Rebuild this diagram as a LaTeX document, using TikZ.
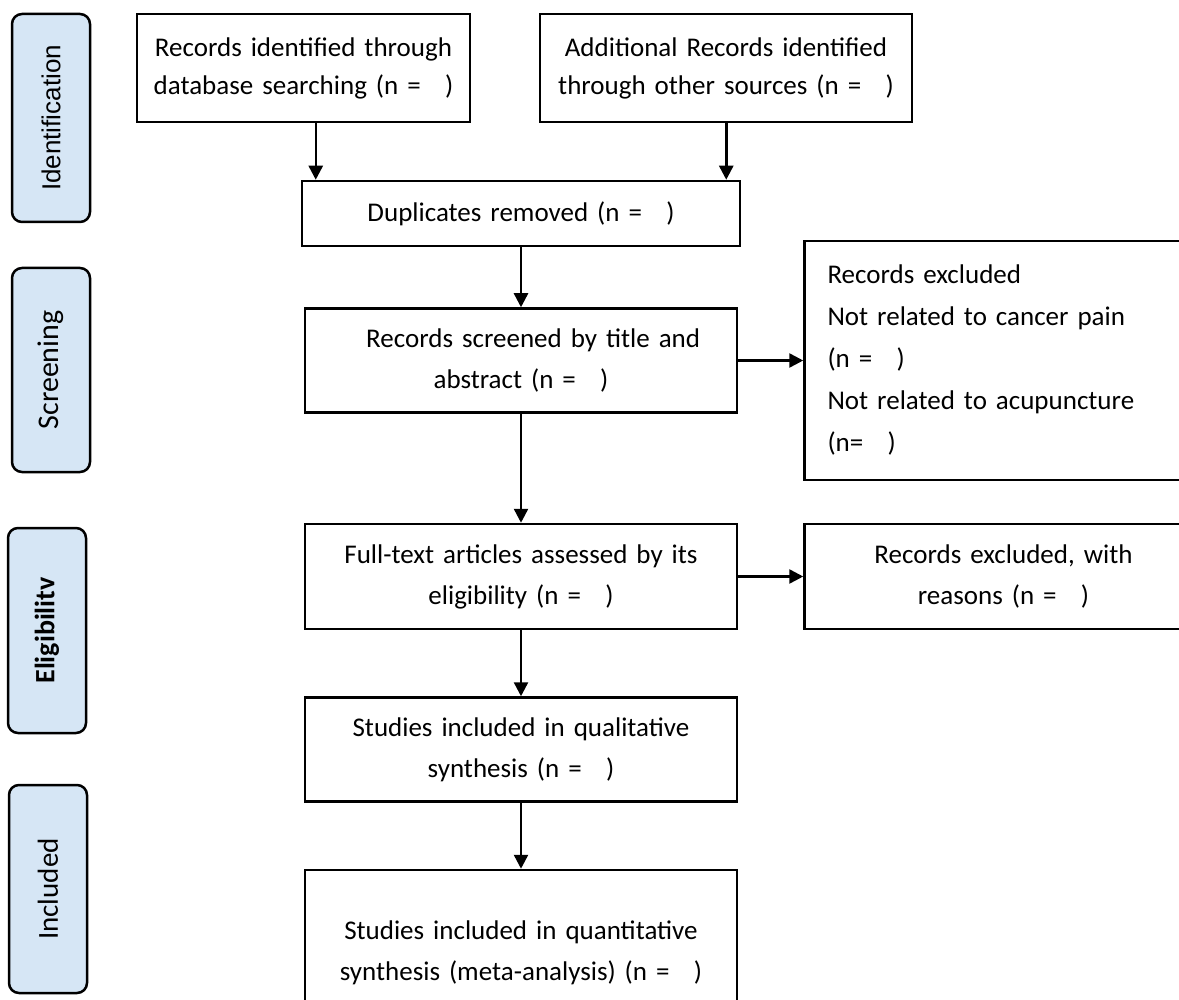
\documentclass[tikz,border=0pt]{standalone}
\usepackage{fontspec}
\setmainfont{Carlito}
\newfontfamily\arialfont{Liberation Sans}
\usetikzlibrary{positioning,arrows.meta}
\definecolor{phasefill}{RGB}{214,230,245}

\begin{document}
\begin{tikzpicture}[x=1pt, y=-1pt,
		node distance=60pt and 65pt,
		box/.style={rectangle, draw=black, line width=2.5pt, fill=white,
			text width=#1, align=center, inner sep=0pt,
			font=\fontsize{27}{41}\selectfont},
		topbox/.style={box=#1, minimum height=108pt,
			font=\fontsize{27}{38}\selectfont},
		phase/.style={rectangle, rounded corners=10pt, draw=black, line width=2.5pt,
			fill=phasefill, rotate=90, minimum height=78pt,
			font=\fontsize{29}{30}\selectfont},
		arrow/.style={-{Triangle[width=14pt,length=14pt]}, line width=2.5pt}
		]
		\clip (0,0) rectangle (1179,1000);
		\useasboundingbox (0,0) rectangle (1179,1000);
		% phase labels on the left
		\node[phase, minimum width=208pt, font=\arialfont\fontsize{26}{30}\selectfont] (ident) at (51,118) {Identification};
		\node[phase, minimum width=204pt, font=\fontsize{30}{30}\selectfont] (screening) at (51,370) {Screening};
		\node[phase, minimum width=205pt, font=\bfseries\fontsize{28}{30}\selectfont] (elig) at (47,630.5) {Eligibilitv};
		\node[phase, minimum width=208pt] (incl) at (48,889) {Included};
		% flow boxes
		\node[topbox=333pt] (dbsearch) at (303.5,68) {Records identified through\\database searching (n =\hspace{0.9em})};
		\node[topbox=372pt] (other) at (726,68) {Additional Records identified\\through other sources (n =\hspace{0.9em})};
		\node[box=438pt, minimum height=65pt] (dup) at (521,213.5) {Duplicates removed (n =\hspace{0.9em})};
		\node[box=432pt, minimum height=104pt, below=60pt of dup] (screen) {\hspace{0.9em}Records screened by title and\\abstract (n =\hspace{0.9em})};
		\node[box=352pt, minimum height=239pt, inner xsep=23pt, align=left, right=65pt of screen,
			font=\fontsize{27}{42}\selectfont] (excl) {Records excluded\\Not related to cancer pain\\(n =\hspace{0.9em})\\Not related to acupuncture\\(n=\hspace{0.9em})};
		\node[box=432pt, minimum height=105pt, below=109pt of screen] (fulltext) {Full-text articles assessed by its\\eligibility (n =\hspace{0.9em})};
		\node[box=398pt, minimum height=105pt, right=65pt of fulltext] (reasons) {Records excluded, with\\reasons (n =\hspace{0.9em})};
		\node[box=432pt, minimum height=104pt, below=66pt of fulltext] (qual) {Studies included in qualitative\\synthesis (n =\hspace{0.9em})};
		\node[box=432pt, minimum height=165pt, below=66pt of qual] (quant) {Studies included in quantitative\\synthesis (meta-analysis) (n =\hspace{0.9em})};
		% connectors
		\coordinate (dupL) at ([xshift=15pt]dup.north west);
		\coordinate (dupR) at ([xshift=-15pt]dup.north east);
		\draw[arrow] (dbsearch.south -| dupL) -- (dupL);
		\draw[arrow] (other.south -| dupR) -- (dupR);
		\draw[arrow] (dup) -- (screen);
		\draw[arrow] (screen) -- (excl.west |- screen);
		\draw[arrow] (screen) -- (fulltext);
		\draw[arrow] (fulltext) -- (reasons);
		\draw[arrow] (fulltext) -- (qual);
		\draw[arrow] (qual) -- (quant);
	\end{tikzpicture}
\end{document}
